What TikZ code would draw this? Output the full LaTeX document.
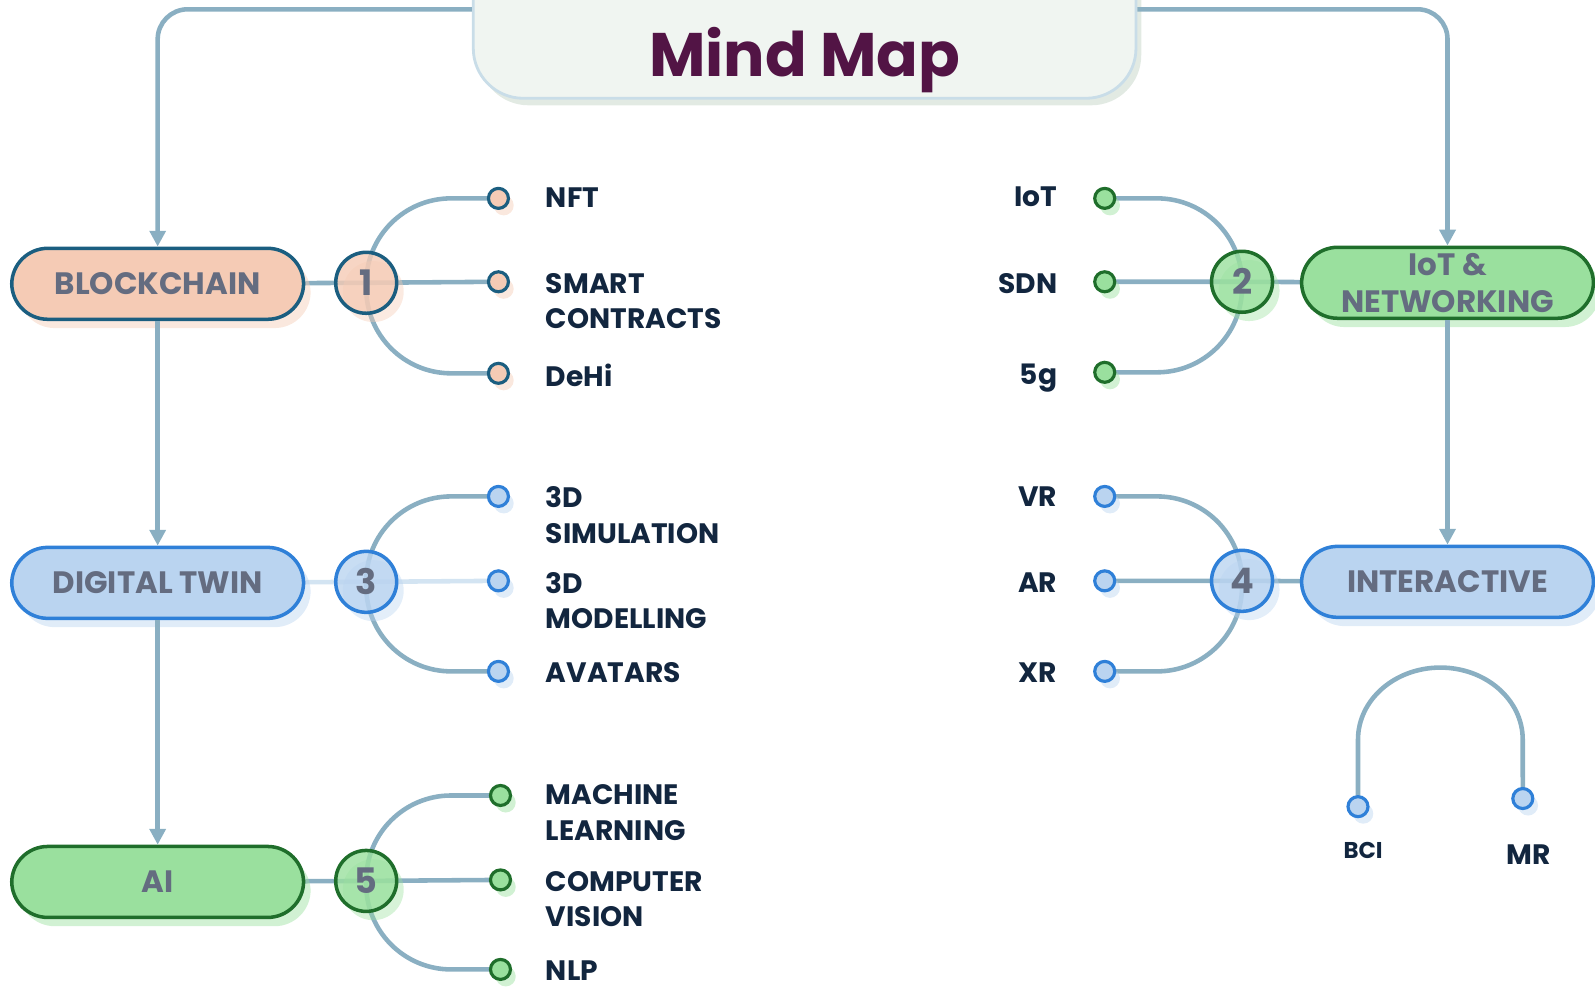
\documentclass[tikz,border=0pt]{standalone}
\usepackage{fontspec}
\setmainfont{Poppins}
\usetikzlibrary{arrows.meta,shadows,backgrounds}
\definecolor{linkc}{HTML}{8AAFC2}
\definecolor{palec}{HTML}{D3E4F2}
\definecolor{peachf}{HTML}{F5CBB5}
\definecolor{peachd}{HTML}{1B5E80}
\definecolor{bluef}{HTML}{BAD4F0}
\definecolor{blued}{HTML}{2F80D8}
\definecolor{greenf}{HTML}{9AE09E}
\definecolor{greend}{HTML}{1F6E2B}
\definecolor{boxtext}{HTML}{646C80}
\definecolor{leaftext}{HTML}{12263F}
\definecolor{titletext}{HTML}{521445}
\definecolor{titlef}{HTML}{F0F5F1}
\definecolor{titled}{HTML}{C9DDE8}
\definecolor{titles}{HTML}{C5D5C8}
\tikzset{
  link/.style={draw=linkc, line width=1.3pt},
  palelink/.style={draw=palec, line width=1.3pt},
  arrowlink/.style={link, -{Triangle[width=4.5pt,length=4.5pt]}},
  titlebox/.style={draw=titled, fill=titlef, line width=0.8pt, rounded corners=0.5cm,
    anchor=south, minimum width=6.63cm, inner sep=0pt, text height=1.42cm, text depth=0.22cm,
    text=titletext, font=\bfseries\fontsize{17.5}{21}\selectfont,
    drop shadow={fill=titles, opacity=0.5, shadow xshift=1.5pt, shadow yshift=-2pt}},
  topic/.style={draw=#1d, fill=#1f, line width=1pt, rounded corners=0.36cm,
    minimum width=2.92cm, minimum height=0.71cm, inner sep=0pt,
    text=boxtext, font=\bfseries\fontsize{8.8}{10.6}\selectfont, align=center,
    drop shadow={fill=#1f, opacity=0.45, shadow xshift=2pt, shadow yshift=-2.5pt}},
  hub/.style={circle, draw=#1d, fill=#1f, fill opacity=0.8, text opacity=1, line width=1pt,
    minimum size=0.61cm, inner sep=0pt, text=boxtext, font=\bfseries\fontsize{10}{12}\selectfont,
    drop shadow={fill=#1f, opacity=0.4, shadow xshift=2pt, shadow yshift=-2.5pt}},
  leaf/.style={circle, draw=#1d, fill=#1f, line width=0.9pt, minimum size=0.2cm, inner sep=0pt,
    drop shadow={fill=#1f, opacity=0.45, shadow xshift=1.5pt, shadow yshift=-2pt}},
  lbl/.style={inner sep=0pt, text=leaftext, font=\bfseries\fontsize{8}{10.1}\selectfont,
    align=left, anchor=north west},
  rlbl/.style={lbl, align=right, anchor=north east},
}
\begin{document}
\begin{tikzpicture}[x=0.010172cm, y=-0.010172cm]
\useasboundingbox (0,0) rectangle (1568,970);

\node[titlebox] (title) at (791,98) {Mind Map};

\node[topic=peach] (block) at (155,279) {BLOCKCHAIN};
\node[topic=blue] (twin) at (155,573) {DIGITAL TWIN};
\node[topic=green] (ai) at (155,867) {AI};
\node[topic=green] (net) at (1423,278) {IoT \&\\NETWORKING};
\node[topic=blue] (inter) at (1423,572) {INTERACTIVE};

\node[hub=peach] (h1) at (360,278) {1};
\node[hub=green] (h2) at (1221,277) {2};
\node[hub=blue] (h3) at (360,572) {3};
\node[hub=blue] (h4) at (1221,571) {4};
\node[hub=green] (h5) at (360,866) {5};

\node[leaf=peach] (nft) at (490,195) {};
\node[leaf=peach] (smart) at (490,277) {};
\node[leaf=peach] (dehi) at (490,367) {};
\node[leaf=blue] (sim) at (490,488) {};
\node[leaf=blue] (model) at (490,571) {};
\node[leaf=blue] (avat) at (490,660) {};
\node[leaf=green] (ml) at (492,782) {};
\node[leaf=green] (cv) at (492,865) {};
\node[leaf=green] (nlp) at (492,953) {};
\node[leaf=green] (iot) at (1086,195) {};
\node[leaf=green] (sdn) at (1086,277) {};
\node[leaf=green] (fiveg) at (1086,366) {};
\node[leaf=blue] (vr) at (1086,488) {};
\node[leaf=blue] (ar) at (1086,571) {};
\node[leaf=blue] (xr) at (1086,660) {};
\node[leaf=blue] (bci) at (1335,793) {};
\node[leaf=blue] (mr) at (1497,785) {};

\node[lbl] (nftl) at (536,184) {NFT};
\node[lbl] (smartl) at (536,268) {SMART\\CONTRACTS};
\node[lbl] (dehil) at (536,357) {DeHi};
\node[lbl] (siml) at (536,478) {3D\\SIMULATION};
\node[lbl] (modell) at (536,562) {3D\\MODELLING};
\node[lbl] (avatl) at (536,651) {AVATARS};
\node[lbl] (mll) at (536,771) {MACHINE\\LEARNING};
\node[lbl] (cvl) at (536,856) {COMPUTER\\VISION};
\node[lbl] (nlpl) at (536,944) {NLP};
\node[rlbl] (iotl) at (1040,183) {IoT};
\node[rlbl] (sdnl) at (1040,268) {SDN};
\node[rlbl] (fivegl) at (1040,357) {5g};
\node[rlbl] (vrl) at (1040,478) {VR};
\node[rlbl] (arl) at (1040,562) {AR};
\node[rlbl] (xrl) at (1040,651) {XR};
\node[lbl, anchor=center, font=\bfseries\fontsize{6.5}{8}\selectfont] (bcil) at (1340,836) {BCI};
\node[lbl, anchor=center] (mrl) at (1503,840) {MR};

\begin{scope}[on background layer]
\draw[link] (block.center) -- (h1.center) -- (smart.center);
\draw[link, rounded corners=0.85cm] (nft.center) -| (h1.center);
\draw[link, rounded corners=0.85cm] (dehi.center) -| (h1.center);
\draw[palelink] (twin.center) -- (h3.center) -- (model.center);
\draw[link, rounded corners=0.85cm] (sim.center) -| (h3.center);
\draw[link, rounded corners=0.85cm] (avat.center) -| (h3.center);
\draw[link] (ai.center) -- (h5.center) -- (cv.center);
\draw[link, rounded corners=0.85cm] (ml.center) -| (h5.center);
\draw[link, rounded corners=0.85cm] (nlp.center) -| (h5.center);
\draw[link] (net.center) -- (h2.center) -- (sdn.center);
\draw[link, rounded corners=0.85cm] (iot.center) -| (h2.center);
\draw[link, rounded corners=0.85cm] (fiveg.center) -| (h2.center);
\draw[link] (inter.center) -- (h4.center) -- (ar.center);
\draw[link, rounded corners=0.85cm] (vr.center) -| (h4.center);
\draw[link, rounded corners=0.85cm] (xr.center) -| (h4.center);
\draw[link] (bci.center) -- ++(0,-66) arc[start angle=180, end angle=0, x radius=0.824cm, y radius=0.72cm] -- (mr.center);
\end{scope}

\draw[arrowlink, rounded corners=0.3cm] ([yshift=2pt]title.west) -| (block.north);
\draw[arrowlink, rounded corners=0.3cm] ([yshift=2pt]title.east) -| (net.north);
\draw[arrowlink] (block) -- (twin);
\draw[arrowlink] (twin) -- (ai);
\draw[arrowlink] (net) -- (inter);
\end{tikzpicture}
\end{document}
